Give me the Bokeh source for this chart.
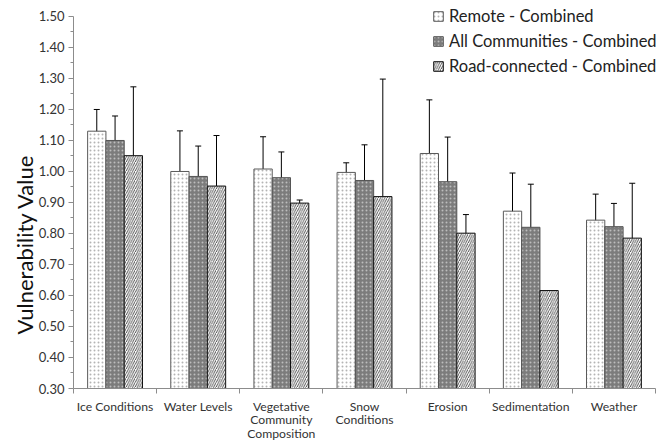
import math
from bokeh.plotting import figure
from bokeh.models import (ColumnDataSource, Range1d, FixedTicker, NumeralTickFormatter,
                          Whisker, TeeHead, Title, Legend, LegendItem)
from bokeh.embed import file_html
from bokeh.resources import INLINE

categories = ["Ice Conditions", "Water Levels", "Vegetative\nCommunity\nComposition",
              "Snow\nConditions", "Erosion", "Sedimentation", "Weather"]
remote = [1.130, 1.000, 1.008, 0.997, 1.058, 0.872, 0.843]
all_comm = [1.100, 0.984, 0.980, 0.971, 0.967, 0.820, 0.822]
road = [1.051, 0.953, 0.898, 0.919, 0.801, 0.616, 0.785]
remote_err = [0.070, 0.131, 0.104, 0.031, 0.173, 0.123, 0.084]
all_err = [0.079, 0.098, 0.083, 0.115, 0.144, 0.139, 0.075]
road_err = [0.222, 0.163, 0.010, 0.379, 0.060, float("nan"), 0.177]
series_names = ["Remote - Combined", "All Communities - Combined", "Road-connected - Combined"]
y_ticks = [0.30, 0.40, 0.50, 0.60, 0.70, 0.80, 0.90, 1.00, 1.10, 1.20, 1.30, 1.40, 1.50]

FONT = "Lato"
TXT = "#333333"
AX = "#8c8c8c"
n = len(categories)

# frame is a little larger than the axes so the legend (clipped to the frame) fits
p = figure(width=672, height=444, output_backend="svg", toolbar_location=None,
           x_range=Range1d(0, 7.12), y_range=Range1d(0.30, 1.5386),
           min_border_left=73, min_border_right=7, min_border_top=4, min_border_bottom=55)
p.outline_line_color = None
p.xgrid.visible = False
p.ygrid.visible = False

centers = [i + 0.5 for i in range(n)]
bw = 0.22
styles = [
    dict(fill_color="white", hatch_pattern=".", hatch_color="#b4b4b4", hatch_scale=4,
         hatch_weight=1, line_color="#5a5a5a"),
    dict(fill_color="#7c7c7c", hatch_pattern=".", hatch_color="#bdbdbd", hatch_scale=4,
         hatch_weight=1, line_color="#555555"),
    dict(fill_color="white", hatch_pattern="/", hatch_color="#262626", hatch_scale=4.5,
         hatch_weight=0.8, line_color="#111111"),
]
vals = [remote, all_comm, road]
errs = [remote_err, all_err, road_err]
offsets = [-bw, 0.0, bw]

items = []
for k in range(3):
    xs = [c + offsets[k] for c in centers]
    src = ColumnDataSource(dict(x=xs, top=vals[k]))
    r = p.vbar(x="x", top="top", bottom=0.30, width=bw, source=src, line_width=1, **styles[k])
    items.append(LegendItem(label=series_names[k], renderers=[r]))
    ex, up, lo = [], [], []
    for x, v, e in zip(xs, vals[k], errs[k]):
        if not math.isnan(e):
            ex.append(x); up.append(v + e); lo.append(v - e)
    esrc = ColumnDataSource(dict(x=ex, upper=up, lower=lo))
    p.add_layout(Whisker(source=esrc, base="x", upper="upper", lower="lower",
                         line_color="black", line_width=1,
                         upper_head=TeeHead(size=6, line_color="black", line_width=1),
                         lower_head=TeeHead(size=6, line_color="black", line_width=1)))

# y axis
yax = p.yaxis[0]
yax.bounds = (y_ticks[0], y_ticks[-1])
yax.ticker = FixedTicker(ticks=y_ticks, minor_ticks=[t + 0.05 for t in y_ticks[:-1]])
yax.formatter = NumeralTickFormatter(format="0.00")
yax.axis_line_color = AX
yax.major_tick_line_color = AX
yax.minor_tick_line_color = AX
yax.major_tick_in = 0
yax.major_tick_out = 5
yax.minor_tick_in = 0
yax.minor_tick_out = 3
yax.major_label_standoff = 4
yax.major_label_text_font = FONT
yax.major_label_text_font_size = "13px"
yax.major_label_text_color = TXT

# x axis: names at category centres, ticks at category boundaries
xax = p.xaxis[0]
xax.bounds = (0, n)
xax.ticker = FixedTicker(ticks=centers, minor_ticks=list(range(n + 1)))
xax.major_label_overrides = {c: name for c, name in zip(centers, categories)}
xax.major_label_text_font = FONT
xax.major_label_text_font_size = "12.2px"
xax.major_label_text_color = TXT
xax.major_label_text_line_height = 0.92
xax.major_label_standoff = 5
xax.axis_line_color = AX
xax.major_tick_line_color = None
xax.major_tick_in = 0
xax.major_tick_out = 0
xax.minor_tick_line_color = AX
xax.minor_tick_in = 0
xax.minor_tick_out = 5

p.add_layout(Title(text="Vulnerability Value", text_font=FONT, text_font_size="22px",
                   text_font_style="normal", text_color="#111111", align="left",
                   text_line_height=0.8, offset=54, standoff=-5), "left")

legend = Legend(items=items, location=(359, 312), orientation="vertical",
                label_text_font=FONT, label_text_font_size="16.5px", label_text_color="#222222",
                glyph_width=12, glyph_height=12, label_standoff=5, label_height=20,
                spacing=5, padding=0, margin=0, border_line_color=None,
                background_fill_alpha=0)
p.add_layout(legend)

open("out.html", "w").write(file_html(p, INLINE))
